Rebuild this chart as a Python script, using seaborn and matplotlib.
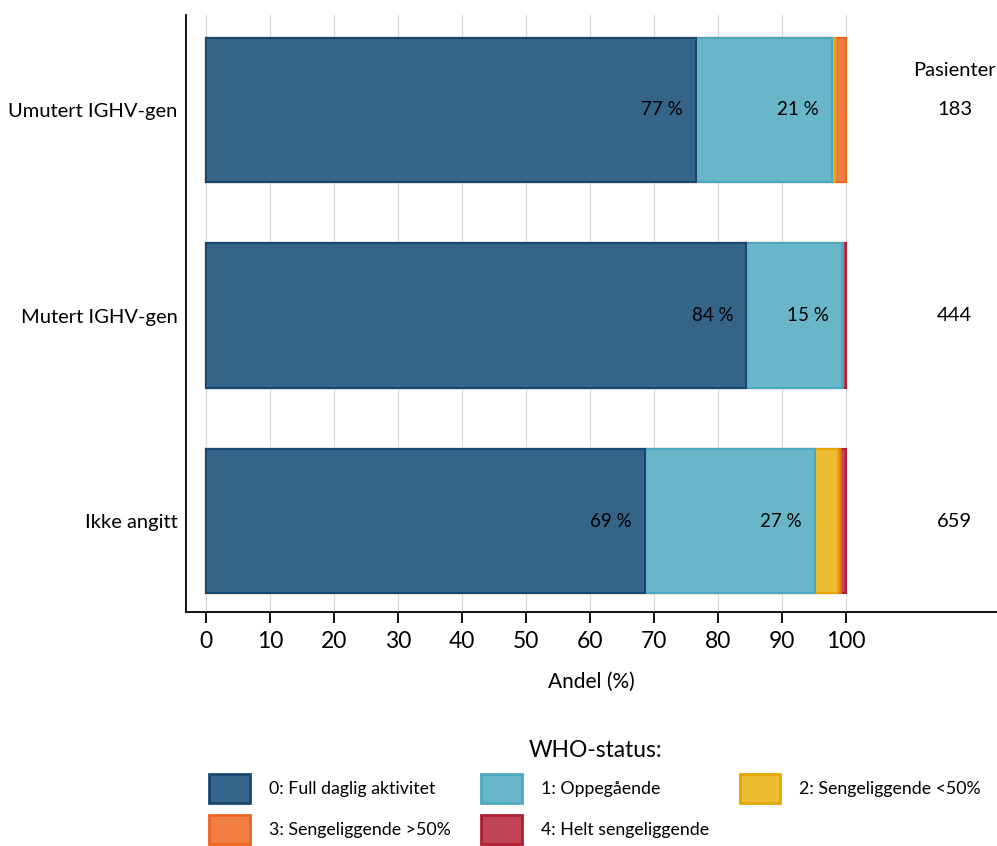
import numpy as np
import pandas as pd
import seaborn as sns
import matplotlib.pyplot as plt
from matplotlib.patches import Patch

# antall pasienter per WHO-status
groups = ['Umutert IGHV-gen', 'Mutert IGHV-gen', 'Ikke angitt']
status = ['0: Full daglig aktivitet', '1: Oppegående', '2: Sengeliggende <50%',
          '3: Sengeliggende >50%', '4: Helt sengeliggende']
who0 = [140, 375, 452]
who1 = [39, 66, 175]
who2 = [1, 0, 24]
who3 = [3, 1, 3]
who4 = [0, 2, 5]

fills = ['#346589', '#69B6C9', '#EDBD33', '#F07E42', '#BF4556']
edges = ['#174872', '#4BA8C0', '#E5A800', '#EE6420', '#B01E30']

counts = np.array([who0, who1, who2, who3, who4], dtype=float)
totals = counts.sum(axis=0)
shares = counts / totals * 100
cum = shares.cumsum(axis=0)

sns.set_style('white')
plt.rcParams['font.family'] = ['Lato', 'DejaVu Sans']
plt.rcParams['text.color'] = 'black'

fig = plt.figure(figsize=(9.97, 8.46), dpi=100)
ax = fig.add_axes([0.1866, 0.2766, 0.8134, 0.7057])

# stablede stolper: tegn kumulative summer fra bakerst til forrest
for k in range(len(status) - 1, -1, -1):
    df = pd.DataFrame({'gruppe': groups, 'andel': cum[k]})
    sns.barplot(data=df, x='andel', y='gruppe', orient='h', ax=ax,
                color=fills[k], edgecolor=edges[k], linewidth=1.5,
                width=0.7, saturation=1, zorder=3)

for i, g in enumerate(groups):
    for k in range(2):
        if shares[k, i] >= 10:
            ax.text(cum[k, i] - 2, i, f'{shares[k, i]:.0f} %', ha='right',
                    va='center', fontsize=13.5, color='black', zorder=5)
    ax.text(117, i, f'{int(totals[i])}', ha='center', va='center', fontsize=14.5)
ax.text(117, -0.19, 'Pasienter', ha='center', va='center', fontsize=14.5)

ax.set_xlim(-3.1, 123.6)
ax.set_ylim(2.44, -0.46)
ax.set_xticks(range(0, 101, 10))
for x in range(0, 101, 10):
    ax.axvline(x, color='#dddddd', lw=1, zorder=0)
ax.tick_params(axis='x', direction='out', length=8, width=1.3, labelsize=16.5,
               bottom=True, color='black', labelcolor='black', pad=6)
ax.tick_params(axis='y', length=0, labelsize=14.5, labelcolor='black', pad=6)
ax.set_xlabel('Andel (%)', fontsize=15, labelpad=14, color='black')
ax.set_ylabel('')
for side in ['top', 'right']:
    ax.spines[side].set_visible(False)
for side in ['left', 'bottom']:
    ax.spines[side].set_color('black')
    ax.spines[side].set_linewidth(1.3)

handles = [Patch(facecolor=fills[k], edgecolor=edges[k], linewidth=2, label=status[k])
           for k in range(len(status))]
order = [0, 3, 1, 4, 2]
fig.legend([handles[k] for k in order], [status[k] for k in order],
           loc='upper center', bbox_to_anchor=(0.597, 0.144), ncol=3,
           frameon=False, fontsize=12.8, title='WHO-status:', title_fontsize=16.4,
           handlelength=2.3, handleheight=2.1, handletextpad=1.07,
           columnspacing=1.7, labelspacing=0.72)

fig.savefig('out.png', dpi=100)
